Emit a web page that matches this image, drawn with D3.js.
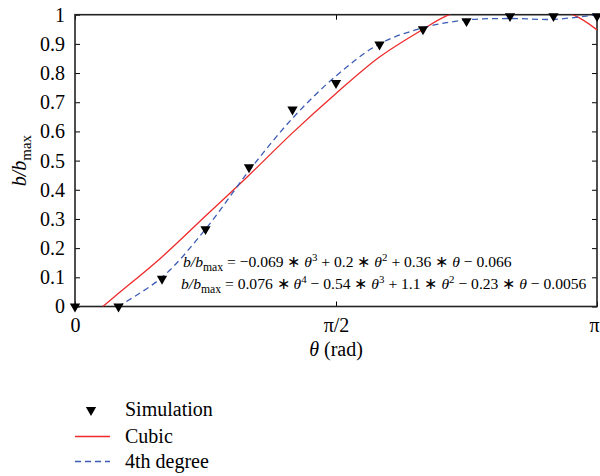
<!DOCTYPE html>
<html lang='en'>
<head>
  <meta charset='UTF-8'>
  <title>b/bmax vs theta</title>
  <script src='https://d3js.org/d3.v7.min.js'></script>
  <style>
    body { margin: 0; background: #fff; }
    text { font-family: 'Liberation Serif', 'Times New Roman', serif; fill: #000; }
  </style>
</head>
<body>
<div id='main'></div>
<script>
  // simulation points (theta in degrees)
  const simDeg = [0, 15, 30, 45, 60, 75, 90, 105, 120, 135, 150, 165, 180]
  const simVal = [0, 0, 0.095, 0.265, 0.477, 0.675, 0.766, 0.898, 0.95, 0.978, 0.995, 0.995, 0.995]
  // cubic fit
  const cubicDeg = [9.6, 15, 30, 45, 60, 75, 90, 105, 120, 129, 150, 171.7, 180]
  const cubicVal = [0, 0.045, 0.17, 0.31, 0.45, 0.595, 0.73, 0.855, 0.95, 1.0, 1.06, 1.0, 0.948]
  // 4th degree fit
  const quartDeg = [14.8, 30, 45, 60, 75, 90, 105, 120, 135, 150, 165, 180]
  const quartVal = [0, 0.10, 0.265, 0.465, 0.645, 0.79, 0.90, 0.955, 0.982, 0.987, 0.984, 1.0]
  const yTicks = [0, 0.1, 0.2, 0.3, 0.4, 0.5, 0.6, 0.7, 0.8, 0.9, 1]
  const xTicks = [0, 90, 180]
  const xTickLabels = ['0', 'π/2', 'π']

  const width = 600
  const height = 476
  const pLeft = 75, pRight = 597, pTop = 14.7, pBottom = 306.5
  const fontSize = 20

  const svg = d3.select('#main').append('svg')
    .attr('width', width)
    .attr('height', height)

  const x = d3.scaleLinear().domain([0, 180]).range([pLeft, pRight])
  const y = d3.scaleLinear().domain([0, 1]).range([pBottom, pTop])

  svg.append('defs').append('clipPath').attr('id', 'plotClip')
    .append('rect')
    .attr('x', pLeft).attr('y', pTop)
    .attr('width', pRight - pLeft).attr('height', pBottom - pTop)

  // axes (box with inward ticks)
  const tickLen = 5
  svg.append('g')
    .attr('transform', `translate(${pLeft},0)`)
    .call(d3.axisLeft(y).tickValues(yTicks).tickSize(-tickLen).tickPadding(10).tickFormat(d3.format('~g')))
  svg.append('g')
    .attr('transform', `translate(${pRight},0)`)
    .call(d3.axisRight(y).tickValues(yTicks).tickSize(-tickLen).tickFormat(''))
  const xAxis = svg.append('g')
    .attr('transform', `translate(0,${pBottom})`)
    .call(d3.axisBottom(x).tickValues(xTicks).tickSize(-tickLen).tickPadding(11)
      .tickFormat((d, i) => xTickLabels[i]))
  // keep the last label (pi) inside the page
  xAxis.selectAll('.tick text').filter(d => d === 180).attr('dx', -3)
  svg.append('g')
    .attr('transform', `translate(0,${pTop})`)
    .call(d3.axisTop(x).tickValues(xTicks).tickSize(-tickLen).tickFormat(''))

  svg.selectAll('.domain').remove()
  svg.selectAll('.tick line').attr('stroke', '#000').attr('stroke-width', 1)
  svg.selectAll('.tick text').style('font-size', fontSize + 'px')
    .style('font-family', "'Liberation Serif', 'Times New Roman', serif")
  svg.append('rect')
    .attr('x', pLeft).attr('y', pTop)
    .attr('width', pRight - pLeft).attr('height', pBottom - pTop)
    .attr('fill', 'none').attr('stroke', '#222').attr('stroke-width', 1.6)

  // curves
  const line = d3.line().x(d => x(d[0])).y(d => y(d[1])).curve(d3.curveCatmullRom.alpha(0.5))
  const plot = svg.append('g').attr('clip-path', 'url(#plotClip)')
  plot.append('path')
    .datum(cubicDeg.map((d, i) => [d, cubicVal[i]]))
    .attr('d', line)
    .attr('fill', 'none').attr('stroke', '#ee2a2a').attr('stroke-width', 1.3)
  plot.append('path')
    .datum(quartDeg.map((d, i) => [d, quartVal[i]]))
    .attr('d', line)
    .attr('fill', 'none').attr('stroke', '#3a5cb4').attr('stroke-width', 1.3)
    .attr('stroke-dasharray', '6,4')

  // simulation markers
  const tri = d3.symbol().type(d3.symbolTriangle).size(46)
  svg.append('g').selectAll('path')
    .data(simDeg.map((d, i) => [d, simVal[i]]))
    .enter().append('path')
    .attr('d', tri)
    .attr('transform', d => `translate(${x(d[0])},${y(d[1])}) rotate(180)`)
    .attr('fill', '#000')

  // equation text
  function equation (xPos, yPos, parts, size) {
    const t = svg.append('text').attr('x', xPos).attr('y', yPos).style('font-size', size + 'px')
    parts.forEach(p => {
      const s = t.append('tspan').text(p.t)
      if (p.i) s.style('font-style', 'italic')
      if (p.sup) s.attr('dy', -size * 0.4).style('font-size', (size * 0.7) + 'px')
      if (p.sub) s.attr('dy', size * 0.25).style('font-size', (size * 0.75) + 'px')
      if (p.back) s.attr('dy', p.back)
    })
    return t
  }
  const eqSize = 15.6
  equation(183, 267, [
    {t: 'b/b', i: true}, {t: 'max', sub: true},
    {t: '  = −0.069 ∗ ', back: -eqSize * 0.25}, {t: 'θ', i: true}, {t: '3', sup: true},
    {t: ' + 0.2 ∗ ', back: eqSize * 0.4}, {t: 'θ', i: true}, {t: '2', sup: true},
    {t: ' + 0.36 ∗ ', back: eqSize * 0.4}, {t: 'θ', i: true}, {t: ' − 0.066'}
  ], eqSize)
  equation(181, 289, [
    {t: 'b/b', i: true}, {t: 'max', sub: true},
    {t: '  = 0.076 ∗ ', back: -eqSize * 0.25}, {t: 'θ', i: true}, {t: '4', sup: true},
    {t: ' − 0.54 ∗ ', back: eqSize * 0.4}, {t: 'θ', i: true}, {t: '3', sup: true},
    {t: ' + 1.1 ∗ ', back: eqSize * 0.4}, {t: 'θ', i: true}, {t: '2', sup: true},
    {t: ' − 0.23 ∗ ', back: eqSize * 0.4}, {t: 'θ', i: true}, {t: ' − 0.0056'}
  ], eqSize)

  // axis labels
  const xl = svg.append('text').attr('x', (pLeft + pRight) / 2).attr('y', 356)
    .attr('text-anchor', 'middle').style('font-size', fontSize + 'px')
  xl.append('tspan').text('θ').style('font-style', 'italic')
  xl.append('tspan').text(' (rad)')

  const yl = svg.append('text')
    .attr('transform', `translate(26,${(pTop + pBottom) / 2}) rotate(-90)`)
    .attr('text-anchor', 'middle').style('font-size', fontSize + 'px')
  yl.append('tspan').text('b/b').style('font-style', 'italic')
  yl.append('tspan').text('max').attr('dy', 5).style('font-size', '15px')

  // legend
  const lg = svg.append('g')
  lg.append('path').attr('d', tri).attr('transform', 'translate(91,410) rotate(180)').attr('fill', '#000')
  lg.append('text').attr('x', 125).attr('y', 416).style('font-size', fontSize + 'px').text('Simulation')
  lg.append('line').attr('x1', 75).attr('x2', 110).attr('y1', 436.5).attr('y2', 436.5)
    .attr('stroke', '#ee2a2a').attr('stroke-width', 1.3)
  lg.append('text').attr('x', 125).attr('y', 443).style('font-size', fontSize + 'px').text('Cubic')
  lg.append('line').attr('x1', 75).attr('x2', 110).attr('y1', 461.5).attr('y2', 461.5)
    .attr('stroke', '#3a5cb4').attr('stroke-width', 1.3).attr('stroke-dasharray', '6,4')
  lg.append('text').attr('x', 125).attr('y', 468).style('font-size', fontSize + 'px').text('4th degree')
</script>
</body>
</html>
